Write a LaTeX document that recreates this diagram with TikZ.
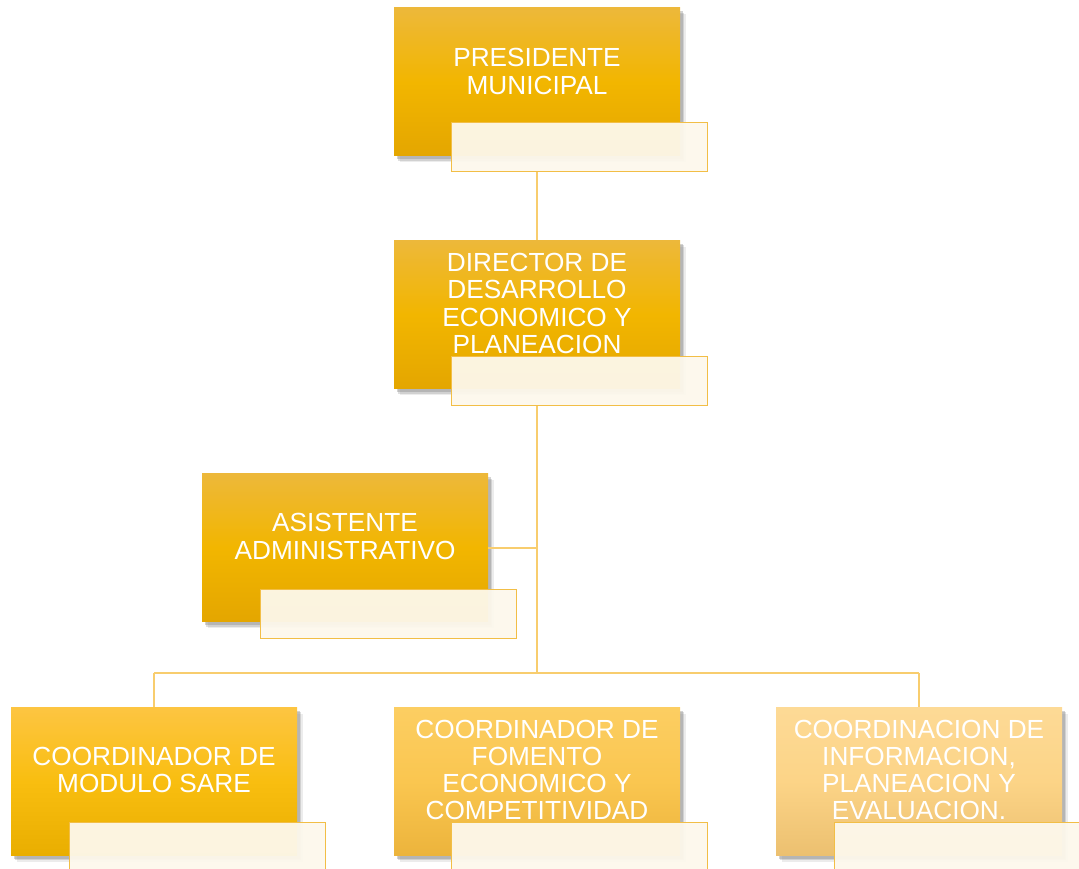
\documentclass[tikz,border=0pt]{standalone}
\usepackage{fontspec}
\setmainfont{Liberation Sans}
\usetikzlibrary{shadows}
\definecolor{lineC}{RGB}{248,205,110}
\definecolor{tagBorder}{RGB}{242,190,70}
\definecolor{tagFill}{RGB}{253,248,236}
\definecolor{goldTop}{RGB}{237,184,58}
\definecolor{goldMid}{RGB}{242,182,0}
\definecolor{goldBot}{RGB}{228,166,0}
\definecolor{sareTop}{RGB}{253,197,66}
\definecolor{sareMid}{RGB}{249,190,16}
\definecolor{sareBot}{RGB}{233,174,0}
\definecolor{fomTop}{RGB}{252,206,98}
\definecolor{fomMid}{RGB}{250,198,80}
\definecolor{fomBot}{RGB}{236,180,60}
\definecolor{infTop}{RGB}{253,218,150}
\definecolor{infMid}{RGB}{252,212,135}
\definecolor{infBot}{RGB}{236,192,112}
\begin{document}
\begin{tikzpicture}[x=1pt,y=-1pt,
  card/.style={minimum width=286pt,minimum height=148pt,inner sep=0pt,
    drop shadow={opacity=0.15,shadow xshift=5.5pt,shadow yshift=-6.5pt},
    drop shadow={opacity=0.25,shadow xshift=4pt,shadow yshift=-5pt},
    drop shadow={opacity=0.35,shadow xshift=2.5pt,shadow yshift=-3.5pt}},
  gold/.style={card,top color=goldTop,bottom color=goldBot,middle color=goldMid},
  sare/.style={card,top color=sareTop,bottom color=sareBot,middle color=sareMid},
  fom/.style={card,top color=fomTop,bottom color=fomBot,middle color=fomMid},
  inf/.style={card,top color=infTop,bottom color=infBot,middle color=infMid},
  title/.style={text=white,align=center,font=\fontsize{26.2}{27.2}\selectfont,inner sep=0pt},
  tag/.style={draw=tagBorder,line width=1pt,fill=tagFill,fill opacity=0.95,
    minimum width=256pt,minimum height=49pt,inner sep=0pt},
  link/.style={draw=lineC,line width=1.6pt}]
\useasboundingbox (0,0) rectangle (1079,869);

% junction points of the connectors
\coordinate (busL) at (154,673);
\coordinate (busR) at (919,673);
\coordinate (busM) at (537,673);
\coordinate (asisJ) at (537,548);

% boxes
\node[gold] (pres) at (537,82) {};
\node[gold] (dir) at (537,314.5) {};
\node[gold] (asis) at (345,547.5) {};
\node[sare] (sare) at (154,781) {};
\node[fom] (fom) at (537,781) {};
\node[inf] (inf) at (919,781) {};

% name tags
\node[tag] (presT) at (579,147.5) {};
\node[tag] (dirT) at (579,380.5) {};
\node[tag] (asisT) at (388.5,613.5) {};
\node[tag] (sareT) at (197,846.5) {};
\node[tag] (fomT) at (579,846.5) {};
\node[tag] (infT) at (962,846.5) {};

% connectors
\path[link] (presT.south -| pres.south) -- (dir.north);
\path[link] (dirT.south -| dir.south) -- (busM);
\path[link] (asis.east |- asisJ) -- (asisJ);
\path[link] (busL) -- (busR);
\path[link] (busL) -- (sare.north);
\path[link] (busR) -- (inf.north);

% titles
\node[title] at (537,71.5) {PRESIDENTE\\MUNICIPAL};
\node[title] at (537,303.5) {DIRECTOR DE\\DESARROLLO\\ECONOMICO Y\\PLANEACION};
\node[title] at (345,536.5) {ASISTENTE\\ADMINISTRATIVO};
\node[title] at (154,770) {COORDINADOR DE\\MODULO SARE};
\node[title] at (537,770) {COORDINADOR DE\\FOMENTO\\ECONOMICO Y\\COMPETITIVIDAD};
\node[title] at (919,770) {COORDINACION DE\\INFORMACION,\\PLANEACION Y\\EVALUACION.};
\end{tikzpicture}
\end{document}
